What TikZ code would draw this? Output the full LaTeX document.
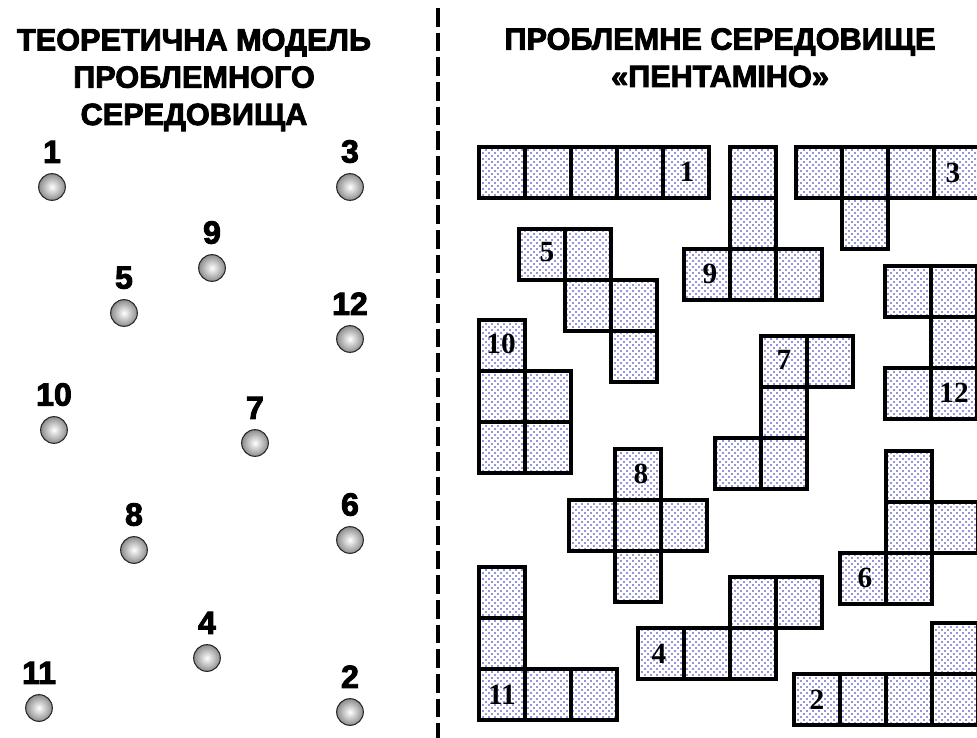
\documentclass[tikz,border=0pt]{standalone}
\usepackage{fontspec}
\setmainfont{Liberation Sans}
\newfontfamily\headfont[FakeBold=3]{Liberation Sans Bold}
\newfontfamily\cellfont{Liberation Serif}
\usepackage{tikz}
\usetikzlibrary{patterns.meta,positioning}
\definecolor{dotblue}{RGB}{40,40,180}
\definecolor{ballgray}{RGB}{140,140,140}
\tikzdeclarepattern{name=celldots,type=uncolored,
  bottom left={(-1pt,-1pt)},top right={(3.5pt,3.5pt)},tile size={(4.5pt,4.5pt)},
  code={\fill (0pt,0pt) circle [radius=0.7pt]; \fill (2.25pt,2.25pt) circle [radius=0.7pt];}}

\begin{document}
\begin{tikzpicture}[x=0.75pt,y=-0.75pt]
\useasboundingbox (0,0) rectangle (977,738);
\clip (0,0) rectangle (977,738);
\tikzset{head/.style={font=\headfont\fontsize{23}{28}\selectfont,align=center,inner sep=0pt}}
\tikzset{ball/.style={circle,minimum size=20pt,inner sep=0pt,draw=black!85,line width=0.8pt,shading=radial,inner color=white,outer color=ballgray}}
\tikzset{ballnum/.style={font=\headfont\fontsize{24}{24}\selectfont,inner sep=0pt}}
\tikzset{cellbox/.style={draw=black,line width=2.4pt,pattern=celldots,pattern color=dotblue}}
\tikzset{cellnum/.style={font=\cellfont\bfseries\fontsize{22}{22}\selectfont,inner sep=0pt}}
\def\cw{46} \def\ch{51}
% titles
\node[head,anchor=base] (lefthead) at (194,125) {ТЕОРЕТИЧНА МОДЕЛЬ\\ПРОБЛЕМНОГО\\СЕРЕДОВИЩА};
\node[head,anchor=base] (righthead) at (720,87) {ПРОБЛЕМНЕ СЕРЕДОВИЩЕ\\«ПЕНТАМІНО»};
% divider
\coordinate (divtop) at (438,8);
\coordinate (divbot) at (438,738);
\draw[line width=2.3pt,dash pattern=on 14pt off 4.5pt] (divtop) -- (divbot);
% model points
\foreach \n/\x/\y in {1/52/187, 3/350/187, 9/212/268, 5/124/313, 12/350/339, 10/54/430, 7/255/443, 6/350/540, 8/134/550, 4/207/658, 11/39/708, 2/350/712} {
  \node[ball] (pt\n) at (\x,\y) {};
  \node[ballnum,above=7.5pt of pt\n] (lb\n) {\n};
}
% pentomino pieces
\foreach \x/\y in {479/147,525/147,571/147,617/147,663/147} \draw[cellbox] (\x,\y) rectangle ++(\cw,\ch); % 1
\foreach \x/\y in {796/147,842/147,888/147,934/147,842/198} \draw[cellbox] (\x,\y) rectangle ++(\cw,\ch); % 3
\foreach \x/\y in {730/147,730/198,684/249,730/249,776/249} \draw[cellbox] (\x,\y) rectangle ++(\cw,\ch); % 9
\foreach \x/\y in {519/229,565/229,565/280,611/280,611/331} \draw[cellbox] (\x,\y) rectangle ++(\cw,\ch); % 5
\foreach \x/\y in {479/320,479/371,525/371,479/422,525/422} \draw[cellbox] (\x,\y) rectangle ++(\cw,\ch); % 10
\foreach \x/\y in {885/266,931/266,931/317,885/368,931/368} \draw[cellbox] (\x,\y) rectangle ++(\cw,\ch); % 12
\foreach \x/\y in {761/336,807/336,761/387,715/438,761/438} \draw[cellbox] (\x,\y) rectangle ++(\cw,\ch); % 7
\foreach \x/\y in {615/449,569/500,615/500,661/500,615/551} \draw[cellbox] (\x,\y) rectangle ++(\cw,\ch); % 8
\foreach \x/\y in {886/451,886/502,932/502,840/553,886/553} \draw[cellbox] (\x,\y) rectangle ++(\cw,\ch); % 6
\foreach \x/\y in {479/567,479/618,479/669,525/669,571/669} \draw[cellbox] (\x,\y) rectangle ++(\cw,\ch); % 11
\foreach \x/\y in {730/577,776/577,638/628,684/628,730/628} \draw[cellbox] (\x,\y) rectangle ++(\cw,\ch); % 4
\foreach \x/\y in {932/623,794/674,840/674,886/674,932/674} \draw[cellbox] (\x,\y) rectangle ++(\cw,\ch); % 2
% piece numbers
\foreach \n/\x/\y in {1/687/172, 3/953/173, 9/710/274, 5/547/252, 10/501/344, 8/641/474, 7/784/360, 12/954/393, 6/865/578, 4/659/654, 2/817/700, 11/502/695}
  \node[cellnum] (num\n) at (\x,\y) {\n};
\end{tikzpicture}
\end{document}
